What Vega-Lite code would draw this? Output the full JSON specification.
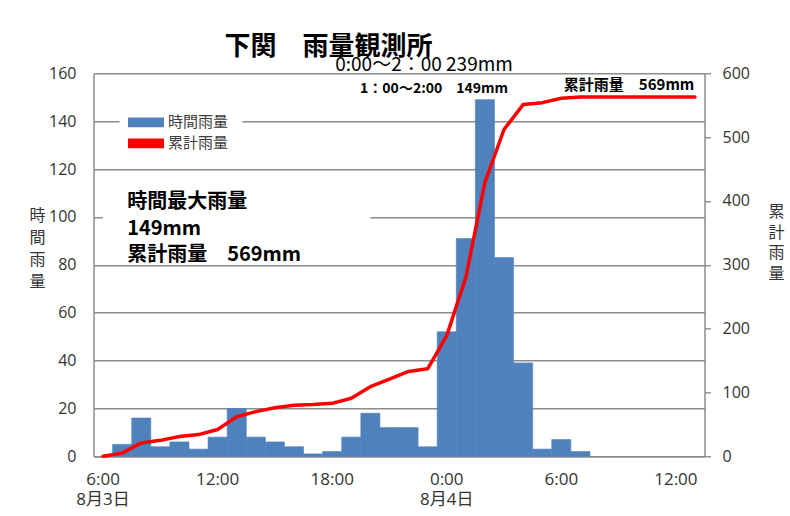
{
  "$schema": "https://vega.github.io/schema/vega-lite/v6.json",
  "width": 611,
  "height": 383,
  "autosize": {"type": "none"},
  "padding": {"left": 93.5, "top": 73.3, "right": 85.5, "bottom": 59.7},
  "background": "white",
  "title": {"text": "下関　雨量観測所", "anchor": "start", "frame": "group", "dx": 131, "dy": 4, "offset": 0, "fontSize": 26, "font": "Noto Sans CJK JP", "fontWeight": "bold", "color": "#000000"},
  "config": {"view": {"stroke": null}, "font": "Noto Sans CJK JP"},
  "data": {"values": [
    {"time": "8/3 6:00", "rain": 0, "cum": 0},
    {"time": "8/3 7:00", "rain": 5, "cum": 5},
    {"time": "8/3 8:00", "rain": 16, "cum": 21},
    {"time": "8/3 9:00", "rain": 4, "cum": 25},
    {"time": "8/3 10:00", "rain": 6, "cum": 31},
    {"time": "8/3 11:00", "rain": 3, "cum": 34},
    {"time": "8/3 12:00", "rain": 8, "cum": 42},
    {"time": "8/3 13:00", "rain": 20, "cum": 62},
    {"time": "8/3 14:00", "rain": 8, "cum": 70},
    {"time": "8/3 15:00", "rain": 6, "cum": 76},
    {"time": "8/3 16:00", "rain": 4, "cum": 80},
    {"time": "8/3 17:00", "rain": 1, "cum": 81},
    {"time": "8/3 18:00", "rain": 2, "cum": 83},
    {"time": "8/3 19:00", "rain": 8, "cum": 91},
    {"time": "8/3 20:00", "rain": 18, "cum": 109},
    {"time": "8/3 21:00", "rain": 12, "cum": 121},
    {"time": "8/3 22:00", "rain": 12, "cum": 133},
    {"time": "8/3 23:00", "rain": 4, "cum": 137},
    {"time": "8/4 0:00", "rain": 52, "cum": 189},
    {"time": "8/4 1:00", "rain": 91, "cum": 280},
    {"time": "8/4 2:00", "rain": 149, "cum": 429},
    {"time": "8/4 3:00", "rain": 83, "cum": 512},
    {"time": "8/4 4:00", "rain": 39, "cum": 551},
    {"time": "8/4 5:00", "rain": 3, "cum": 554},
    {"time": "8/4 6:00", "rain": 7, "cum": 561},
    {"time": "8/4 7:00", "rain": 2, "cum": 563},
    {"time": "8/4 8:00", "rain": 0, "cum": 563},
    {"time": "8/4 9:00", "rain": 0, "cum": 563},
    {"time": "8/4 10:00", "rain": 0, "cum": 563},
    {"time": "8/4 11:00", "rain": 0, "cum": 563},
    {"time": "8/4 12:00", "rain": 0, "cum": 563},
    {"time": "8/4 13:00", "rain": 0, "cum": 563}
  ]},
  "layer": [
    {
      "layer": [
        {
          "transform": [{"filter": "datum.rain > 0"}],
          "mark": {"type": "bar", "stroke": "#4F81BD", "strokeWidth": 0.6},
          "encoding": {
            "x": {
              "field": "time", "type": "ordinal",
              "scale": {"domain": ["8/3 6:00","8/3 7:00","8/3 8:00","8/3 9:00","8/3 10:00","8/3 11:00","8/3 12:00","8/3 13:00","8/3 14:00","8/3 15:00","8/3 16:00","8/3 17:00","8/3 18:00","8/3 19:00","8/3 20:00","8/3 21:00","8/3 22:00","8/3 23:00","8/4 0:00","8/4 1:00","8/4 2:00","8/4 3:00","8/4 4:00","8/4 5:00","8/4 6:00","8/4 7:00","8/4 8:00","8/4 9:00","8/4 10:00","8/4 11:00","8/4 12:00","8/4 13:00"], "paddingInner": 0, "paddingOuter": 0},
              "axis": {
                "title": null, "domainColor": "#8c8c8c", "domainWidth": 1.5, "ticks": false, "tickSize": 0,
                "labelPadding": 15, "labelAngle": 0, "labelFontSize": 17, "labelFont": "Open Sans, Noto Sans CJK JP",
                "labelColor": "#333333", "labelLineHeight": 20, "labelOverlap": false,
                "labelExpr": "datum.value === '8/3 6:00' ? ['6:00', '8月3日'] : datum.value === '8/4 0:00' ? ['0:00', '8月4日'] : indexof(['8/3 12:00', '8/3 18:00', '8/4 6:00', '8/4 12:00'], datum.value) >= 0 ? split(datum.value, ' ')[1] : ''"
              }
            },
            "y": {
              "field": "rain", "type": "quantitative",
              "scale": {"domain": [0, 160], "nice": false},
              "axis": {
                "title": ["時", "間", "雨", "量"], "titleAngle": 0, "titleX": -56.5, "titleY": 141.7, "titleAlign": "center",
                "titleBaseline": "middle", "titleFontSize": 16, "titleFontWeight": "normal", "titleColor": "#333333",
                "titleLineHeight": 22, "titleFont": "Noto Sans CJK JP",
                "values": [0, 20, 40, 60, 80, 100, 120, 140, 160],
                "grid": true, "gridColor": "#8c8c8c", "gridWidth": 1.4,
                "ticks": false, "tickSize": 0, "labelPadding": 17.5, "labelFontSize": 16, "labelFont": "Open Sans",
                "labelColor": "#333333", "domainColor": "#8c8c8c", "domainWidth": 1.5
              }
            },
            "color": {
              "datum": "時間雨量", "type": "nominal",
              "scale": {"domain": ["時間雨量", "累計雨量"], "range": ["#4F81BD", "#FF0000"]},
              "legend": {
                "orient": "none", "legendX": 26, "legendY": 22.5, "title": null, "fillColor": "white",
                "padding": 14, "symbolSize": 529, "labelFontSize": 15, "labelFont": "Noto Sans CJK JP",
                "labelColor": "#404040", "labelOffset": 9.5, "rowPadding": 0,
                "symbolType": "M-1.5,-0.36H1.5V0.36H-1.5Z",
                "encode": {"symbols": {"update": {
                  "shape": {"signal": "datum.value === '時間雨量' ? 'M-1.5,-0.36H1.5V0.36H-1.5Z' : 'M-1.5,-0.15H1.5V0.15H-1.5Z'"},
                  "fill": {"signal": "datum.value === '時間雨量' ? '#4F81BD' : '#FF0000'"},
                  "stroke": {"value": "transparent"},
                  "strokeWidth": {"value": 0},
                  "opacity": {"value": 1}
                }}}
              }
            }
          }
        },
        {
          "data": {"values": [{}]},
          "mark": {"type": "rect", "fill": "white"},
          "encoding": {
            "x": {"datum": "8/3 6:00", "type": "ordinal", "bandPosition": 0.5},
            "x2": {"datum": "8/3 20:00"},
            "y": {"datum": 82, "type": "quantitative"},
            "y2": {"datum": 116}
          }
        },
        {
          "data": {"values": [{}]},
          "mark": {"type": "text", "text": "0:00～2：00  239mm", "fontSize": 19, "font": "Noto Sans CJK JP", "color": "#000000", "align": "center", "baseline": "middle", "dx": -3.6},
          "encoding": {"x": {"datum": "8/3 23:00", "type": "ordinal"}, "y": {"datum": 163.6, "type": "quantitative"}}
        },
        {
          "data": {"values": [{}]},
          "mark": {"type": "text", "text": "1：00～2:00　149mm", "fontSize": 14, "fontWeight": "bold", "font": "Noto Sans CJK JP", "color": "#000000", "align": "center", "baseline": "middle", "dx": 6.4},
          "encoding": {"x": {"datum": "8/3 23:00", "type": "ordinal"}, "y": {"datum": 153.4, "type": "quantitative"}}
        },
        {
          "data": {"values": [{}]},
          "mark": {"type": "text", "text": "累計雨量　569mm", "fontSize": 15, "fontWeight": "bold", "font": "Noto Sans CJK JP", "color": "#000000", "align": "center", "baseline": "middle", "dx": -8.6},
          "encoding": {"x": {"datum": "8/4 10:00", "type": "ordinal"}, "y": {"datum": 155.2, "type": "quantitative"}}
        },
        {
          "data": {"values": [{}]},
          "mark": {"type": "text", "text": "時間最大雨量", "fontSize": 20, "fontWeight": "bold", "font": "Noto Sans CJK JP", "color": "#000000", "align": "left", "baseline": "middle", "dx": 5},
          "encoding": {"x": {"datum": "8/3 7:00", "type": "ordinal"}, "y": {"datum": 106.3, "type": "quantitative"}}
        },
        {
          "data": {"values": [{}]},
          "mark": {"type": "text", "text": "149mm", "fontSize": 20, "fontWeight": "bold", "font": "Noto Sans CJK JP", "color": "#000000", "align": "left", "baseline": "middle", "dx": 5},
          "encoding": {"x": {"datum": "8/3 7:00", "type": "ordinal"}, "y": {"datum": 94.8, "type": "quantitative"}}
        },
        {
          "data": {"values": [{}]},
          "mark": {"type": "text", "text": "累計雨量　569mm", "fontSize": 20, "fontWeight": "bold", "font": "Noto Sans CJK JP", "color": "#000000", "align": "left", "baseline": "middle", "dx": 5},
          "encoding": {"x": {"datum": "8/3 7:00", "type": "ordinal"}, "y": {"datum": 84.3, "type": "quantitative"}}
        }
      ]
    },
    {
      "mark": {"type": "line", "strokeWidth": 3.5, "strokeJoin": "round", "strokeCap": "round"},
      "encoding": {
        "x": {"field": "time", "type": "ordinal"},
        "y": {
          "field": "cum", "type": "quantitative",
          "scale": {"domain": [0, 600], "nice": false},
          "axis": {
            "orient": "right", "title": ["累", "計", "雨", "量"], "titleAngle": 0, "titleX": 71.5, "titleY": 138.4,
            "titleAlign": "center", "titleBaseline": "middle", "titleFontSize": 16, "titleFontWeight": "normal",
            "titleColor": "#333333", "titleLineHeight": 20.5, "titleFont": "Noto Sans CJK JP",
            "values": [0, 100, 200, 300, 400, 500, 600], "grid": false,
            "ticks": true, "tickSize": 6, "tickColor": "#8c8c8c", "tickWidth": 1.4,
            "labelPadding": 11.5, "labelFontSize": 16, "labelFont": "Open Sans", "labelColor": "#333333",
            "domainColor": "#8c8c8c", "domainWidth": 1.5
          }
        },
        "color": {"datum": "累計雨量", "type": "nominal"}
      }
    }
  ],
  "resolve": {"scale": {"y": "independent"}}
}
